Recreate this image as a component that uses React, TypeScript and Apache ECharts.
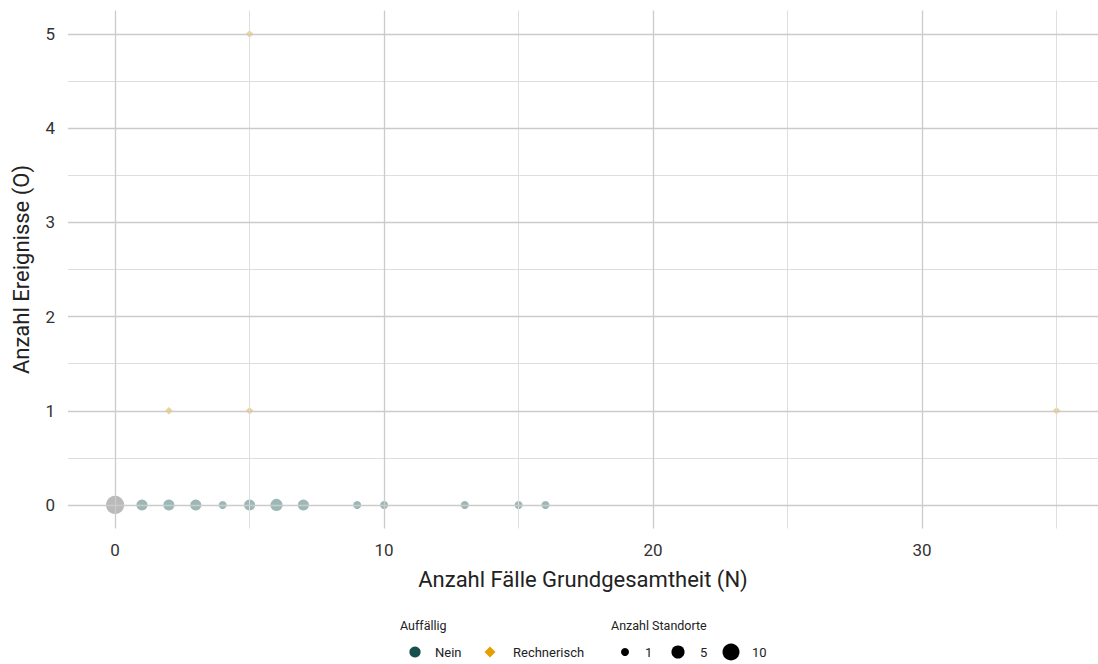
import React, { useEffect, useRef } from "react";
import * as echarts from "echarts";

// Data
const neinN = [1, 2, 3, 4, 5, 6, 7, 9, 10, 13, 15, 16];
const neinO = [0, 0, 0, 0, 0, 0, 0, 0, 0, 0, 0, 0];
const neinStandorte = [3, 3, 3, 1, 3, 4, 3, 1, 1, 1, 1, 1];
const naN = [0];
const naO = [0];
const naStandorte = [12];
const rechnerischN = [2, 5, 5, 35];
const rechnerischO = [1, 1, 5, 1];
const rechnerischStandorte = [1, 1, 1, 1];

const xMajor = [0, 10, 20, 30];
const xMinor = [5, 15, 25, 35];
const yMajor = [0, 1, 2, 3, 4, 5];
const yMinor = [0.5, 1.5, 2.5, 3.5, 4.5];
const sizeLegend = [1, 5, 10];

const FONT = "Roboto";
const sizeOf = (n: number) => 3.84 + 4.16 * Math.sqrt(n);

export default function App() {
  const ref = useRef<HTMLDivElement>(null);
  useEffect(() => {
    const chart = echarts.init(ref.current!, null, { renderer: "svg" });
    const majorStyle = { color: "#cbcbcb", width: 1.3, type: "solid" as const };
    const minorStyle = { color: "#dedede", width: 1, type: "solid" as const };
    const gridLines = [
      ...xMinor.map((v) => ({ xAxis: v, lineStyle: minorStyle })),
      ...yMinor.map((v) => ({ yAxis: v, lineStyle: minorStyle })),
      ...xMajor.map((v) => ({ xAxis: v, lineStyle: majorStyle })),
      ...yMajor.map((v) => ({ yAxis: v, lineStyle: majorStyle })),
    ];
    const sizeCx = [625, 678, 731];
    const sizeTx = [645, 700, 752];
    const legendY = 652;
    const textStyle = (t: string, x: number, y: number, size = 13) => ({
      type: "text",
      x,
      y,
      style: {
        text: t,
        fill: "#222",
        font: `${size}px ${FONT}`,
        textVerticalAlign: "middle",
        textAlign: "left",
      },
    });
    chart.setOption({
      animation: false,
      textStyle: { fontFamily: FONT },
      grid: { left: 68, top: 10.5, width: 1030, height: 518 },
      xAxis: {
        type: "value",
        min: -1.75,
        max: 36.54,
        axisLine: { show: false },
        axisTick: { show: false },
        splitLine: { show: false },
        axisLabel: {
          customValues: xMajor,
          fontSize: 17,
          color: "#333",
          margin: 13,
          fontFamily: FONT,
        },
        name: "Anzahl Fälle Grundgesamtheit (N)",
        nameLocation: "middle",
        nameGap: 40,
        nameTextStyle: { fontSize: 22, color: "#222", fontFamily: FONT },
      },
      yAxis: {
        type: "value",
        min: -0.25,
        max: 5.25,
        axisLine: { show: false },
        axisTick: { show: false },
        splitLine: { show: false },
        axisLabel: {
          customValues: yMajor,
          fontSize: 17,
          color: "#333",
          margin: 13,
          fontFamily: FONT,
        },
        name: "Anzahl Ereignisse (O)",
        nameLocation: "middle",
        nameGap: 36,
        nameTextStyle: { fontSize: 22, color: "#222", fontFamily: FONT },
      },
      series: [
        {
          type: "scatter",
          data: [],
          z: 1,
          silent: true,
          markLine: {
            silent: true,
            symbol: "none",
            label: { show: false },
            data: gridLines,
          },
        },
        {
          name: "NA",
          type: "scatter",
          z: 3,
          data: naN.map((x, i) => [x, naO[i], naStandorte[i]]),
          symbol: "circle",
          symbolSize: (d: number[]) => sizeOf(d[2]),
          itemStyle: { color: "rgba(110,110,110,0.6)" },
        },
        {
          name: "Nein",
          type: "scatter",
          z: 3,
          data: neinN.map((x, i) => [x, neinO[i], neinStandorte[i]]),
          symbol: "circle",
          symbolSize: (d: number[]) => sizeOf(d[2]),
          itemStyle: { color: "rgba(20,88,82,0.53)" },
        },
        {
          name: "Rechnerisch",
          type: "scatter",
          z: 3,
          data: rechnerischN.map((x, i) => [x, rechnerischO[i], rechnerischStandorte[i]]),
          symbol: "diamond",
          symbolSize: (d: number[]) => sizeOf(d[2]) * 0.95,
          itemStyle: { color: "rgba(230,159,0,0.6)" },
        },
      ],
      graphic: [
        textStyle("Auffällig", 400, 625, 12.5),
        { type: "circle", shape: { cx: 415, cy: legendY, r: 5.6 }, style: { fill: "#17504d" } },
        textStyle("Nein", 435, legendY),
        {
          type: "polygon",
          shape: { points: [[490, legendY - 5.5], [495.5, legendY], [490, legendY + 5.5], [484.5, legendY]] },
          style: { fill: "#e69f00" },
        },
        textStyle("Rechnerisch", 513, legendY),
        textStyle("Anzahl Standorte", 611, 625, 12.5),
        ...sizeLegend.map((n, i) => ({
          type: "circle",
          shape: { cx: sizeCx[i], cy: legendY, r: sizeOf(n) / 2 },
          style: { fill: "#000" },
        })),
        ...sizeLegend.map((n, i) => textStyle(String(n), sizeTx[i], legendY)),
      ],
    });
    return () => chart.dispose();
  }, []);
  return (
    <div
      ref={ref}
      style={{ position: "fixed", left: 0, top: 0, width: 1098, height: 664, background: "#fff" }}
    />
  );
}
